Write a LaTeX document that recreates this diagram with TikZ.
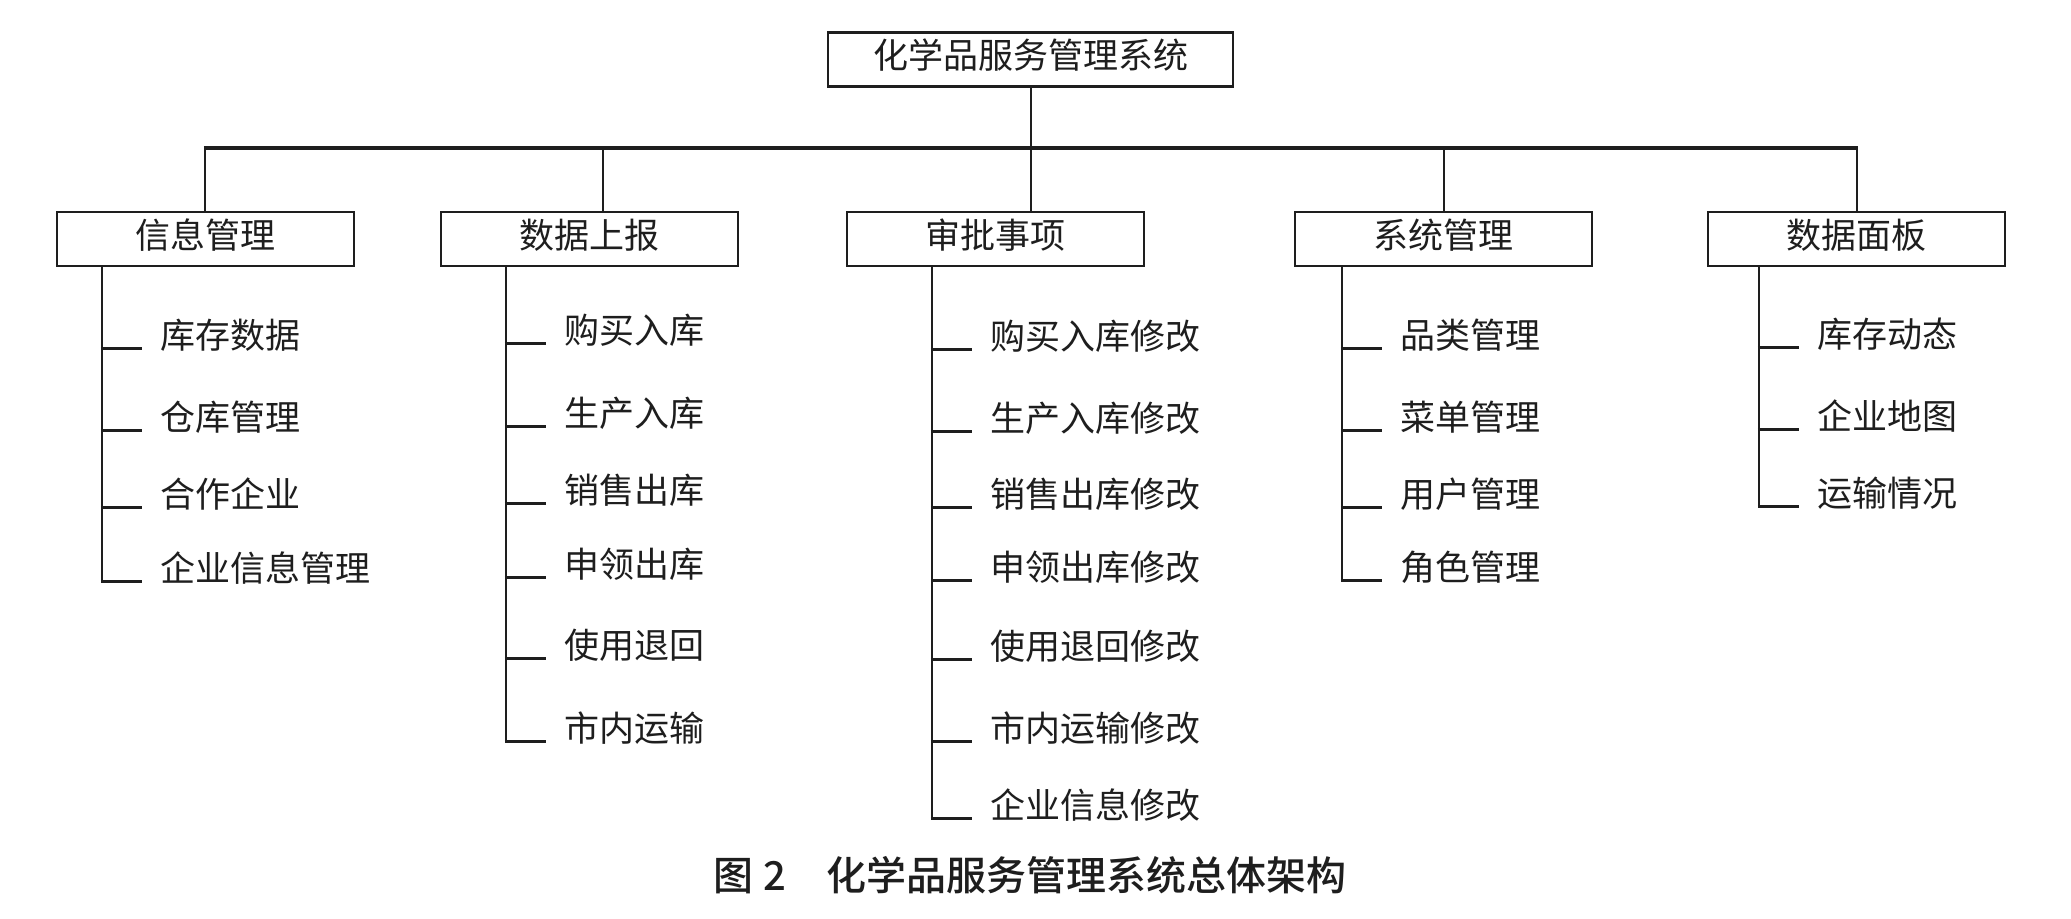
\documentclass[tikz,border=0pt]{standalone}
\usepackage{fontspec}
\setmainfont{Noto Sans CJK SC}
\newfontfamily\capfont{Noto Sans CJK SC Medium}
\definecolor{ink}{HTML}{1E1E1E}
\begin{document}
\begin{tikzpicture}[x=1pt,y=-1pt,
  box/.style={draw=ink,line width=2.6pt,minimum height=54pt,inner sep=0pt,
    font=\fontsize{35pt}{35pt}\selectfont,text height=20pt,text depth=2pt,text=ink},
  item/.style={anchor=base west,inner sep=0pt,font=\fontsize{35pt}{35pt}\selectfont,text=ink},
  bus/.style={draw=ink,line width=3.8pt},
  link/.style={draw=ink,line width=2.5pt},
  tick/.style={draw=ink,line width=3pt}]
\useasboundingbox[fill=white] (0,0) rectangle (2071,918);
% top
\node[box,minimum width=405pt] (T) at (1030.5,59.5) {化学品服务管理系统};
% level 2
\node[box,minimum width=297pt] (A) at (205.5,239) {信息管理};
\node[box,minimum width=297pt] (B) at (589.5,239) {数据上报};
\node[box,minimum width=297pt] (C) at (995.5,239) {审批事项};
\node[box,minimum width=297pt] (D) at (1443.5,239) {系统管理};
\node[box,minimum width=297pt] (E) at (1856.5,239) {数据面板};
% bus
\coordinate (b1) at (205,148);
\coordinate (b2) at (603,148);
\coordinate (b3) at (1031,148);
\coordinate (b4) at (1444,148);
\coordinate (b5) at (1857,148);
\draw[bus] ([xshift=-1.25pt]b1) -- ([xshift=1.25pt]b5);
\draw[link] (T.south -| b3) -- (b3);
\foreach \b/\n in {b1/A,b2/B,b3/C,b4/D,b5/E}{
  \draw[link] (\b) -- (\b |- \n.north);
}
% columns
\newcommand\mycolumn[4]{% #1 parent, #2 x, #3 list, #4 last y
  \coordinate (#1end) at (#2,#4);
  \draw[link] (#1.south -| #1end) -- ([yshift=-1.5pt]#1end);
  \foreach \yy/\tt [count=\i] in {#3}{
    \coordinate (#1j\i) at (#2,\yy);
    \draw[tick] ([xshift=-1.25pt]#1j\i) -- ++(41,0);
    \node[item] (#1t\i) at ([xshift=58pt,yshift=-0.5pt]#1j\i) {\tt};
  }
}
\mycolumn{A}{102}{348/库存数据,430/仓库管理,507/合作企业,581/企业信息管理}{581}
\mycolumn{B}{506}{343/购买入库,426/生产入库,503/销售出库,577/申领出库,658/使用退回,741/市内运输}{741}
\mycolumn{C}{932}{349/购买入库修改,431/生产入库修改,507/销售出库修改,580/申领出库修改,659/使用退回修改,741/市内运输修改,818/企业信息修改}{818}
\mycolumn{D}{1342}{348/品类管理,430/菜单管理,507/用户管理,580/角色管理}{580}
\mycolumn{E}{1759}{347/库存动态,429/企业地图,506/运输情况}{506}
% caption
\node[anchor=base west,inner sep=0pt,font=\fontsize{40pt}{40pt}\selectfont\capfont,text=ink] (cap) at (713,890)
  {图\hspace{10pt}2\hspace{40pt}化学品服务管理系统总体架构};
\end{tikzpicture}
\end{document}
